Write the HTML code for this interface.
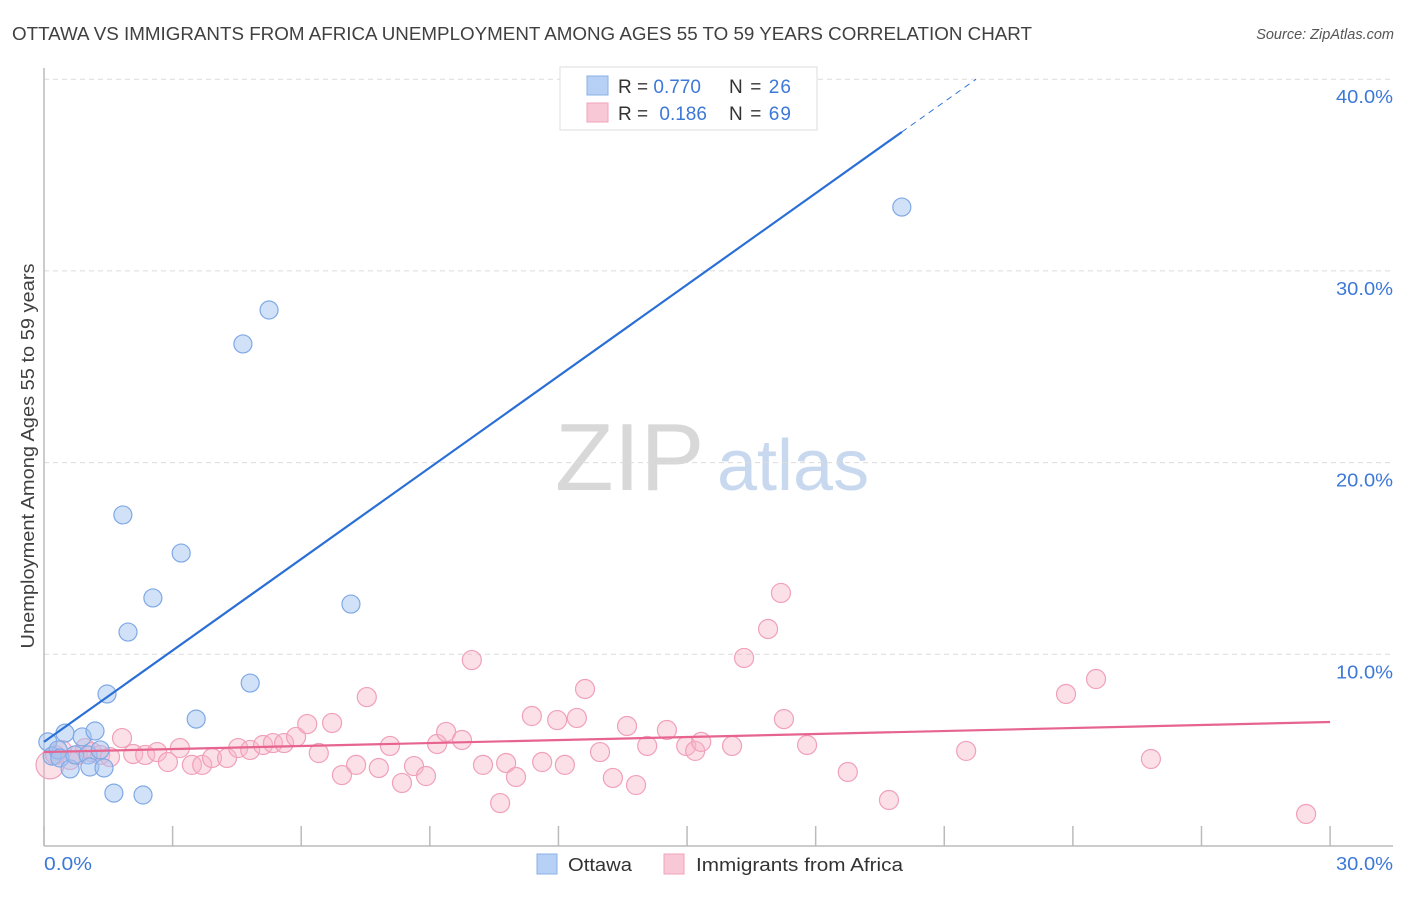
<!DOCTYPE html>
<html><head><meta charset="utf-8"><style>
body{margin:0;background:#fff;font-family:"Liberation Sans",sans-serif;}
svg text{font-family:"Liberation Sans",sans-serif;}
</style></head><body>
<svg id="chart" width="1406" height="892" xmlns="http://www.w3.org/2000/svg">
<text x="12" y="40" font-size="18" fill="#404040" textLength="1020" lengthAdjust="spacingAndGlyphs">OTTAWA VS IMMIGRANTS FROM AFRICA UNEMPLOYMENT AMONG AGES 55 TO 59 YEARS CORRELATION CHART</text>
<text x="1394" y="39" font-size="14.5" fill="#555" text-anchor="end" font-style="italic">Source: ZipAtlas.com</text>
<g>
<text x="555" y="490" font-size="96" fill="#d8d8d8" font-family="Liberation Serif,serif">ZIP</text>
<text x="717" y="490" font-size="72" fill="#c8d8ef">atlas</text>
</g>
<g id="grid"></g>
<g id="axes"></g>
<g id="marks"></g>
<text transform="translate(34,456) rotate(-90)" font-size="18" fill="#404040" text-anchor="middle" textLength="385" lengthAdjust="spacingAndGlyphs">Unemployment Among Ages 55 to 59 years</text>
<g>
<rect x="560" y="67" width="257" height="63" fill="#fff" stroke="#ddd"/>
<rect x="587" y="76" width="21" height="19" fill="#b6d1f5" stroke="#8ab0e6"/>
<rect x="587" y="103" width="21" height="19" fill="#f9c8d6" stroke="#f0a3bb"/>
<text x="618" y="93" font-size="19" fill="#333">R = <tspan fill="#3c78d8">0.770</tspan></text>
<text x="729" y="93" font-size="19" fill="#333" textLength="62">N = <tspan fill="#3c78d8">26</tspan></text>
<text x="618" y="120" font-size="19" fill="#333">R = <tspan fill="#3c78d8" dx="6">0.186</tspan></text>
<text x="729" y="120" font-size="19" fill="#333" textLength="62">N = <tspan fill="#3c78d8">69</tspan></text>
</g>
<g>
<rect x="537" y="854" width="20" height="20" fill="#b6d1f5" stroke="#8ab0e6"/>
<text x="568" y="871" font-size="18" fill="#333" textLength="64" lengthAdjust="spacingAndGlyphs">Ottawa</text>
<rect x="664" y="854" width="20" height="20" fill="#f9c8d6" stroke="#f0a3bb"/>
<text x="696" y="871" font-size="18" fill="#333" textLength="207" lengthAdjust="spacingAndGlyphs">Immigrants from Africa</text>
</g>
</svg>
<script>
const ottawaX=[0.09,0.19,0.33,0.37,0.49,0.61,0.72,0.89,1.03,1.07,1.19,1.31,1.40,1.47,1.63,1.84,1.96,2.31,2.54,3.20,3.55,4.64,4.81,5.25,7.16,20.01];
const ottawaY=[5.43,4.69,5.01,4.59,5.89,4.02,4.75,5.69,4.75,4.12,6.00,5.01,4.07,7.93,2.76,17.27,11.16,2.66,12.94,15.28,6.62,26.19,8.50,27.96,12.62,33.33];
const africaX=[0.14,0.26,0.42,0.61,0.79,0.96,1.12,1.31,1.54,1.82,2.08,2.36,2.64,2.89,3.17,3.45,3.69,3.92,4.27,4.53,4.81,5.11,5.34,5.60,5.88,6.14,6.41,6.72,6.95,7.28,7.53,7.81,8.07,8.35,8.63,8.91,9.17,9.38,9.75,9.98,10.24,10.64,10.78,11.01,11.38,11.62,11.97,12.15,12.43,12.62,12.97,13.27,13.60,13.81,14.07,14.53,14.98,15.19,15.33,16.05,16.33,16.89,17.19,17.26,17.80,18.75,19.71,21.51,23.84,24.54,25.82,29.44];
const africaY=[4.23,4.75,5.01,4.49,4.75,5.11,4.90,4.75,4.64,5.63,4.80,4.75,4.90,4.38,5.11,4.23,4.23,4.59,4.59,5.11,5.01,5.27,5.37,5.37,5.69,6.36,4.85,6.42,3.70,4.23,7.77,4.07,5.22,3.29,4.17,3.65,5.32,5.95,5.53,9.70,4.23,2.24,4.33,3.60,6.78,4.38,6.57,4.23,6.68,8.19,4.90,3.55,6.26,3.18,5.22,6.05,5.22,4.96,5.43,5.22,9.81,11.32,13.20,6.62,5.27,3.86,2.40,4.96,7.93,8.71,4.54,1.67];
const ottawaTrend=[5.43,1.59];
const africaTrend=[4.9,0.0523];
const yTicks=[10,20,30,40];
const yTickLabels=["10.0%","20.0%","30.0%","40.0%"];
const xTicks=[0,3,6,9,12,15,18,21,24,27,30];

const NS="http://www.w3.org/2000/svg";
const sx=v=>44+v*42.87, sy=v=>846-v*19.17;
function mk(tag,attrs,parent){const e=document.createElementNS(NS,tag);for(const k in attrs)e.setAttribute(k,attrs[k]);document.getElementById(parent).appendChild(e);return e;}
yTicks.forEach((t,i)=>{
 const g=mk('line',{x1:44,x2:1393,y1:sy(t),y2:sy(t),stroke:'#dcdcdc','stroke-dasharray':'5,4'},'grid');
 
 
 const l=mk('text',{x:1393,y:sy(t)+24,'font-size':18,fill:'#3c78d8','text-anchor':'end',textLength:57,lengthAdjust:'spacingAndGlyphs'},'axes');
 l.textContent=yTickLabels[i];
 
 
});
const ya=mk('line',{x1:44,x2:44,y1:68,y2:846,stroke:'#bbb','stroke-width':1.5},'axes');


const xa=mk('line',{x1:44,x2:1393,y1:846,y2:846,stroke:'#bbb','stroke-width':1.5},'axes');


xTicks.forEach(t=>{
 const tk=mk('line',{x1:sx(t),x2:sx(t),y1:826,y2:846,stroke:'#bbb','stroke-width':1.5},'axes');
 
 
});
const x0=mk('text',{x:44,y:870,'font-size':18,fill:'#3c78d8',textLength:48,lengthAdjust:'spacingAndGlyphs'},'axes');x0.textContent='0.0%';


const x1=mk('text',{x:1393,y:870,'font-size':18,fill:'#3c78d8','text-anchor':'end',textLength:57,lengthAdjust:'spacingAndGlyphs'},'axes');x1.textContent='30.0%';



africaX.forEach((x,i)=>{
 const c=mk('circle',{cx:sx(x),cy:sy(africaY[i]),r:i===0?14:9.5,fill:'rgba(248,180,200,0.42)',stroke:'#f0a0ba','stroke-width':1.2},'marks');
 
 
});
ottawaX.forEach((x,i)=>{
 const c=mk('circle',{cx:sx(x),cy:sy(ottawaY[i]),r:9,fill:'rgba(164,196,240,0.5)',stroke:'#7fa9e6','stroke-width':1.2},'marks');
 
 
});
const xEndSolid=20.01, xEndDash=(40-ottawaTrend[0])/ottawaTrend[1];
const tb=mk('line',{x1:sx(0),y1:sy(ottawaTrend[0]),x2:sx(xEndSolid),y2:sy(ottawaTrend[0]+ottawaTrend[1]*xEndSolid),stroke:'#2a6fd6','stroke-width':2.2},'marks');


const td=mk('line',{x1:sx(xEndSolid),y1:sy(ottawaTrend[0]+ottawaTrend[1]*xEndSolid),x2:sx(xEndDash),y2:sy(40),stroke:'#2a6fd6','stroke-width':1,'stroke-dasharray':'6,5'},'marks');


const tp=mk('line',{x1:sx(0),y1:sy(africaTrend[0]),x2:sx(30),y2:sy(africaTrend[0]+africaTrend[1]*30),stroke:'#e6648f','stroke-width':2.2},'marks');


</script>
</body></html>
